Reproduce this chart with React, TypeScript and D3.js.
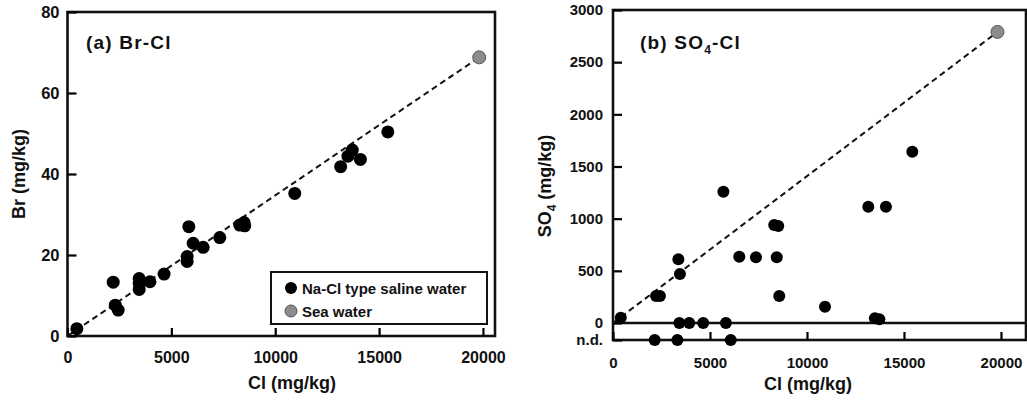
import React, { useEffect, useRef } from 'react'
import * as d3 from 'd3'

// panel (a) Br vs Cl, Na-Cl type saline water
const salineCl = [450, 2200, 2300, 2440, 3450, 3450, 3450, 3970, 4650, 5760, 5760, 5840, 6050, 6530, 7330, 8290, 8530, 8500, 10940, 13150, 13500, 13710, 14100, 15420]
const salineBr = [1.8, 13.3, 7.6, 6.4, 14.2, 13, 11.5, 13.4, 15.3, 19.6, 18.4, 27, 22.9, 21.9, 24.3, 27.4, 27.2, 28, 35.2, 41.8, 44.4, 45.9, 43.6, 50.4]

// panel (b) SO4 vs Cl
const so4Cl = [400, 2220, 2420, 3370, 3450, 5690, 6510, 7370, 8310, 8520, 8440, 8570, 10930, 13160, 14070, 15430, 13500, 13730, 3420, 3930, 4650, 5820]
const so4Val = [50, 258, 258, 610, 470, 1258, 635, 630, 940, 930, 630, 258, 156, 1114, 1114, 1641, 45, 35, 0, 0, 0, 0]
// not detected SO4
const ndCl = [2150, 3320, 6070]

// sea water
const seaCl = 19820
const seaBr = 68.8
const seaSO4 = 2790

const xTicks = [0, 5000, 10000, 15000, 20000]
const brTicks = [0, 20, 40, 60, 80]
const so4Ticks = [0, 500, 1000, 1500, 2000, 2500, 3000]
const ND = -163

const FONT = '"Liberation Sans", Arial, sans-serif'

export default function App() {
  const xa = d3.scaleLinear().domain([0, 20580]).range([67.5, 495])
  const ya = d3.scaleLinear().domain([0, 80]).range([336, 12])
  const xb = d3.scaleLinear().domain([0, 21290]).range([613, 1026])
  const yb = d3.scaleLinear().domain([ND, 3000]).range([340, 10])

  const axXa = useRef<SVGGElement>(null)
  const axYa = useRef<SVGGElement>(null)
  const axXb = useRef<SVGGElement>(null)
  const axYb = useRef<SVGGElement>(null)

  useEffect(() => {
    const style = (size: number) => (g: any) => {
      g.select('.domain').remove()
      g.attr('font-family', FONT).attr('font-size', size).attr('font-weight', 'bold')
      g.selectAll('.tick line').attr('stroke-width', 2.2)
      g.selectAll('.tick text').attr('fill', '#111')
    }
    const fmt = d3.format('d')

    d3.select(axXa.current).call(d3.axisBottom(xa).tickValues(xTicks).tickFormat(fmt as any).tickSizeInner(-8).tickSizeOuter(0).tickPadding(16) as any)
      .call(style(16))
    d3.select(axYa.current).call(d3.axisLeft(ya).tickValues(brTicks).tickFormat(fmt as any).tickSizeInner(-9).tickSizeOuter(0).tickPadding(8) as any)
      .call(style(16.5))
    d3.select(axXb.current).call(d3.axisBottom(xb).tickValues(xTicks).tickFormat(fmt as any).tickSizeInner(-8).tickSizeOuter(0).tickPadding(17.5) as any)
      .call(style(15))
    d3.select(axYb.current).call(d3.axisLeft(yb).tickValues([ND, ...so4Ticks]).tickFormat(((d: number) => d === ND ? 'n.d.' : fmt(d)) as any).tickSizeInner(-9).tickSizeOuter(0).tickPadding(10) as any)
      .call(style(15))
  }, [])

  const dash = '6,4'

  return (
    <svg width={1027} height={401} style={{ position: 'absolute', left: 0, top: 0, background: '#fff' }} fontFamily={FONT}>
      {/* panel a */}
      <rect x={xa(0)} y={ya(80)} width={xa.range()[1] - xa(0)} height={ya(0) - ya(80)} fill="none" stroke="#111" strokeWidth={2.6} />
      <g ref={axXa} transform={`translate(0,${ya(0)})`} />
      <g ref={axYa} transform={`translate(${xa(0)},0)`} />
      <line x1={xa(0)} y1={ya(0)} x2={xa(seaCl)} y2={ya(seaBr)} stroke="#111" strokeWidth={2} strokeDasharray={dash} />
      {salineCl.map((c, i) => (
        <circle key={i} cx={xa(c)} cy={ya(salineBr[i])} r={6.5} fill="#000" />
      ))}
      <circle cx={xa(seaCl)} cy={ya(seaBr)} r={6.5} fill="#8c8c8c" stroke="#555" strokeWidth={1} />
      <text x={86} y={49} fontSize={19} fontWeight="bold" letterSpacing={1.2} fill="#111">(a) Br-Cl</text>
      <text x={292} y={389} fontSize={18} fontWeight="bold" textAnchor="middle" fill="#111">Cl (mg/kg)</text>
      <text transform={`translate(25,${(ya(0) + ya(80)) / 2}) rotate(-90)`} fontSize={18} fontWeight="bold" textAnchor="middle" fill="#111">Br (mg/kg)</text>

      {/* legend */}
      <rect x={271} y={272} width={216} height={52} fill="#fff" stroke="#111" strokeWidth={2} />
      <circle cx={291} cy={288} r={6} fill="#000" />
      <text x={302} y={293.5} fontSize={15} fontWeight="bold" fill="#111">Na-Cl type saline water</text>
      <circle cx={291} cy={311} r={6} fill="#8c8c8c" stroke="#555" strokeWidth={1} />
      <text x={302} y={316.5} fontSize={15} fontWeight="bold" fill="#111">Sea water</text>

      {/* panel b */}
      <rect x={xb(0)} y={yb(3000)} width={xb.range()[1] - xb(0)} height={yb(ND) - yb(3000)} fill="none" stroke="#111" strokeWidth={2.6} />
      <line x1={xb(0)} x2={xb.range()[1]} y1={yb(0)} y2={yb(0)} stroke="#111" strokeWidth={2.4} />
      <g ref={axXb} transform={`translate(0,${yb(ND)})`} />
      <g ref={axYb} transform={`translate(${xb(0)},0)`} />
      <line x1={xb(0)} y1={yb(0)} x2={xb(seaCl)} y2={yb(seaSO4)} stroke="#111" strokeWidth={2} strokeDasharray={dash} />
      {so4Cl.map((c, i) => (
        <circle key={i} cx={xb(c)} cy={yb(so4Val[i])} r={6} fill="#000" />
      ))}
      {ndCl.map((c, i) => (
        <circle key={'nd' + i} cx={xb(c)} cy={yb(ND)} r={6} fill="#000" />
      ))}
      <circle cx={xb(seaCl)} cy={yb(seaSO4)} r={6.5} fill="#8c8c8c" stroke="#555" strokeWidth={1} />
      <text x={640} y={49} fontSize={19} fontWeight="bold" letterSpacing={1.2} fill="#111">
        (b) SO<tspan fontSize={12} dy={5}>4</tspan><tspan dy={-5}>-Cl</tspan>
      </text>
      <text x={808} y={390} fontSize={18} fontWeight="bold" textAnchor="middle" fill="#111">Cl (mg/kg)</text>
      <text transform={`translate(551,186) rotate(-90)`} fontSize={18} fontWeight="bold" textAnchor="middle" fill="#111">
        SO<tspan fontSize={12} dy={5}>4</tspan><tspan dy={-5}> (mg/kg)</tspan>
      </text>
    </svg>
  )
}
